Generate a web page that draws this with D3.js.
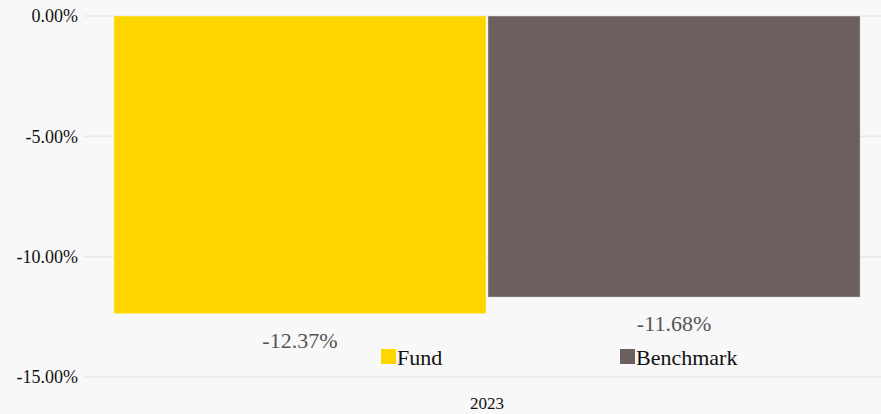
<!DOCTYPE html>
<html>
<head>
<meta charset="utf-8">
<script src="https://cdn.jsdelivr.net/npm/d3@7"></script>
<style>
  body { margin: 0; background: #f8f8f8; }
  svg { display: block; }
  svg text { font-family: "Liberation Serif", "Times New Roman", Times, serif; }
</style>
</head>
<body>
<div id="chart"></div>
<script>
const years = ['2023']
const seriesNames = ['Fund', 'Benchmark']
const fundValues = [-12.37]
const benchmarkValues = [-11.68]
const yTicks = [0, -5, -10, -15]
const seriesColors = ['#fdd600', '#6e5f5f']

const svgWidth = 881
const svgHeight = 414
const margin = { top: 16, right: -9, bottom: 37, left: 84 }
const width = svgWidth - margin.left - margin.right
const height = svgHeight - margin.top - margin.bottom

const locale = d3.formatLocale({ decimal: '.', thousands: ',', grouping: [3], currency: ['', ''], minus: '-' })
const pct = d => locale.format('.2f')(d) + '%'

const svg = d3.select('#chart').append('svg')
  .attr('width', svgWidth)
  .attr('height', svgHeight)

svg.append('rect')
  .attr('width', svgWidth)
  .attr('height', svgHeight)
  .attr('fill', '#f8f8f8')

const g = svg.append('g')
  .attr('transform', 'translate(' + margin.left + ',' + margin.top + ')')

const yScale = d3.scaleLinear().domain([0, -15]).range([0, height])
const x0 = d3.scaleBand().domain(years).range([0, width]).paddingInner(0).paddingOuter(0.04)
const x1 = d3.scaleBand().domain(seriesNames).range([0, x0.bandwidth()]).paddingInner(0.005)
const color = d3.scaleOrdinal().domain(seriesNames).range(seriesColors)

// grid lines
g.append('g')
  .selectAll('line')
  .data(yTicks)
  .join('line')
  .attr('x1', 0)
  .attr('x2', width)
  .attr('y1', d => yScale(d))
  .attr('y2', d => yScale(d))
  .attr('stroke', '#e8e8e8')
  .attr('stroke-width', 1.5)

// y axis
const yAxis = d3.axisLeft(yScale)
  .tickValues(yTicks)
  .tickSize(0)
  .tickPadding(6)
  .tickFormat(pct)

g.append('g')
  .attr('class', 'y axis')
  .call(yAxis)
  .attr('font-family', null)
  .call(a => a.select('.domain').remove())
  .selectAll('text')
  .attr('font-size', 18)
  .attr('fill', '#111')

// x axis
const xAxis = d3.axisBottom(x0).tickSize(0).tickPadding(0)
g.append('g')
  .attr('class', 'x axis')
  .attr('transform', 'translate(0,' + (height + 20) + ')')
  .call(xAxis)
  .attr('font-family', null)
  .call(a => a.select('.domain').remove())
  .selectAll('text')
  .attr('font-size', 17)
  .attr('fill', '#111')

const rows = years.map((y, i) => ({
  year: y,
  values: [
    { key: 'Fund', value: fundValues[i] },
    { key: 'Benchmark', value: benchmarkValues[i] }
  ]
}))

const groups = g.selectAll('.group')
  .data(rows)
  .join('g')
  .attr('class', 'group')
  .attr('transform', d => 'translate(' + x0(d.year) + ',0)')

groups.selectAll('rect')
  .data(d => d.values)
  .join('rect')
  .attr('x', d => x1(d.key))
  .attr('width', x1.bandwidth())
  .attr('y', d => yScale(0))
  .attr('height', d => yScale(d.value) - yScale(0))
  .attr('fill', d => color(d.key))
  .attr('stroke', '#ffffff')
  .attr('stroke-opacity', 0.5)
  .attr('stroke-width', 0.8)

// value labels
groups.selectAll('.val')
  .data(d => d.values)
  .join('text')
  .attr('class', 'val')
  .attr('x', d => x1(d.key) + x1.bandwidth() / 2)
  .attr('y', d => yScale(d.value) + 34)
  .attr('text-anchor', 'middle')
  .attr('font-size', 22)
  .attr('fill', '#555')
  .text(d => pct(d.value))

// legend
const legendX = [381, 620]
const legend = svg.append('g')
  .selectAll('g')
  .data(seriesNames)
  .join('g')
  .attr('transform', (d, i) => 'translate(' + legendX[i] + ',349)')

legend.append('rect')
  .attr('width', 15)
  .attr('height', 15)
  .attr('fill', d => color(d))

legend.append('text')
  .attr('x', 16)
  .attr('y', 16)
  .attr('font-size', 22)
  .attr('fill', '#111')
  .text(d => d)
</script>
</body>
</html>
